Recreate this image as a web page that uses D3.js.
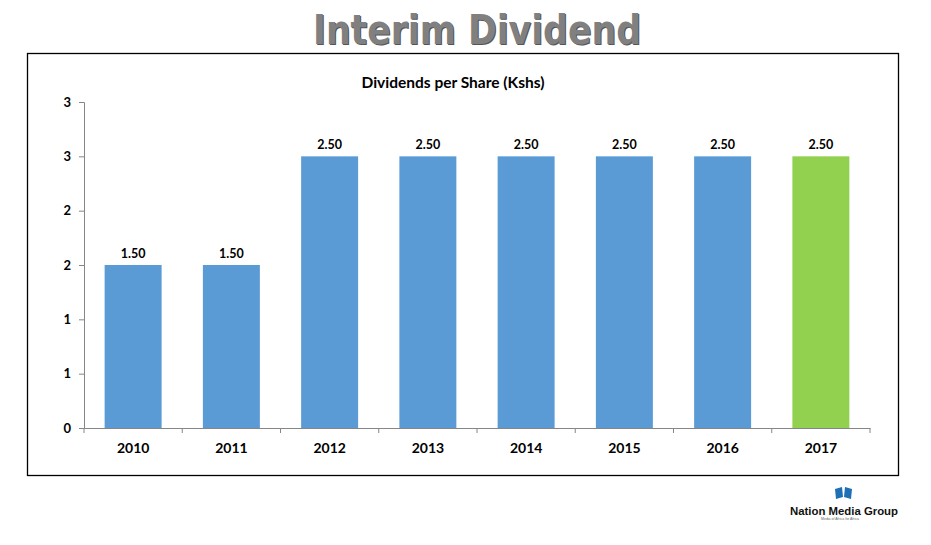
<!DOCTYPE html>
<html><head><meta charset="utf-8">
<script src="https://cdn.jsdelivr.net/npm/d3@7"></script>
<style>body{margin:0;background:#fff}svg{display:block}</style>
</head><body>
<svg id="c" width="931" height="545"></svg>
<script>
const categories = ["2010","2011","2012","2013","2014","2015","2016","2017"];
const values = [1.5,1.5,2.5,2.5,2.5,2.5,2.5,2.5];
const valueLabels = ["1.50","1.50","2.50","2.50","2.50","2.50","2.50","2.50"];
const yTicks = [0,0.5,1,1.5,2,2.5,3];
const yTickLabels = ["0","1","1","2","2","3","3"];
const barColors = ["#5b9bd5","#5b9bd5","#5b9bd5","#5b9bd5","#5b9bd5","#5b9bd5","#5b9bd5","#92d050"];

const svg = d3.select("#c");
const font = "Lato, Carlito, 'Open Sans', sans-serif";

// Main title
svg.append("text").attr("x",477).attr("y",44).attr("text-anchor","middle")
  .attr("font-family","'DejaVu Sans', sans-serif").attr("font-weight","bold")
  .attr("font-size",40).attr("fill","#555").attr("textLength",328).attr("lengthAdjust","spacingAndGlyphs")
  .attr("dx",1).attr("dy",1).text("Interim Dividend");
svg.append("text").attr("x",477).attr("y",44).attr("text-anchor","middle")
  .attr("font-family","'DejaVu Sans', sans-serif").attr("font-weight","bold")
  .attr("font-size",40).attr("fill","#808080").attr("textLength",328).attr("lengthAdjust","spacingAndGlyphs")
  .text("Interim Dividend");

// frame
svg.append("rect").attr("x",27.5).attr("y",53.5).attr("width",871).attr("height",422)
  .attr("fill","none").attr("stroke","#000").attr("stroke-width",1.3);

// chart title
svg.append("text").attr("x",453).attr("y",88).attr("text-anchor","middle")
  .attr("font-family",font).attr("font-weight","bold").attr("font-size",15.5).attr("fill","#000")
  .text("Dividends per Share (Kshs)");

const x = d3.scaleBand().domain(categories).range([84,870]).paddingInner(0.42).paddingOuter(0.21);
const y = d3.scaleLinear().domain([0,3]).range([428,102]);

// y axis
const yAxis = d3.axisLeft(y).tickValues(yTicks).tickSize(5).tickFormat((d,i)=>yTickLabels[i]);
const gy = svg.append("g").attr("transform","translate(84,0)").call(yAxis);
gy.select(".domain").attr("stroke","#868686");
gy.selectAll(".tick line").attr("stroke","#868686");
gy.selectAll(".tick text").attr("font-family",font).attr("font-weight","bold").attr("font-size",13)
  .attr("fill","#000").attr("x",-13);

// bars
svg.append("g").selectAll("rect").data(categories).join("rect")
  .attr("x",d=>x(d)).attr("width",x.bandwidth())
  .attr("y",(d,i)=>y(values[i])).attr("height",(d,i)=>y(0)-y(values[i]))
  .attr("fill",(d,i)=>barColors[i]);

// value labels
svg.append("g").selectAll("text").data(categories).join("text")
  .attr("x",d=>x(d)+x.bandwidth()/2).attr("y",(d,i)=>y(values[i])-7)
  .attr("text-anchor","middle").attr("font-family",font).attr("font-weight","bold")
  .attr("font-size",12.5).attr("fill","#000").text((d,i)=>valueLabels[i]);

// x axis
const gx = svg.append("g").attr("transform","translate(0,428)");
gx.call(d3.axisBottom(x).tickSize(0).tickSizeOuter(0));
gx.select(".domain").attr("stroke","#868686");
gx.selectAll(".tick text").attr("font-family",font).attr("font-weight","bold").attr("font-size",14)
  .attr("fill","#000").attr("dy","1.55em");
// boundary ticks between categories
const bounds = d3.range(categories.length+1).map(i=>84+i*(786/categories.length));
gx.selectAll("line.bt").data(bounds).join("line").attr("class","bt")
  .attr("x1",d=>d).attr("x2",d=>d).attr("y1",0).attr("y2",5).attr("stroke","#868686");

// logo
const lg = svg.append("g");
lg.append("path").attr("d","M835,489 L842,487 L843,497 L836,499 Z").attr("fill","#1e6fb5");
lg.append("path").attr("d","M845,487 L852,489 L851,499 L844,497 Z").attr("fill","#1e6fb5");
lg.append("text").attr("x",844).attr("y",515).attr("text-anchor","middle")
  .attr("font-family","'Liberation Sans', Arial, sans-serif").attr("font-weight","bold")
  .attr("font-size",10.5).attr("fill","#111").attr("textLength",108).attr("lengthAdjust","spacingAndGlyphs")
  .text("Nation Media Group");
lg.append("text").attr("x",840).attr("y",520).attr("text-anchor","middle")
  .attr("font-family","'Liberation Sans', Arial, sans-serif")
  .attr("font-size",3.5).attr("fill","#666").text("Media of Africa for Africa");
</script>
</body></html>
